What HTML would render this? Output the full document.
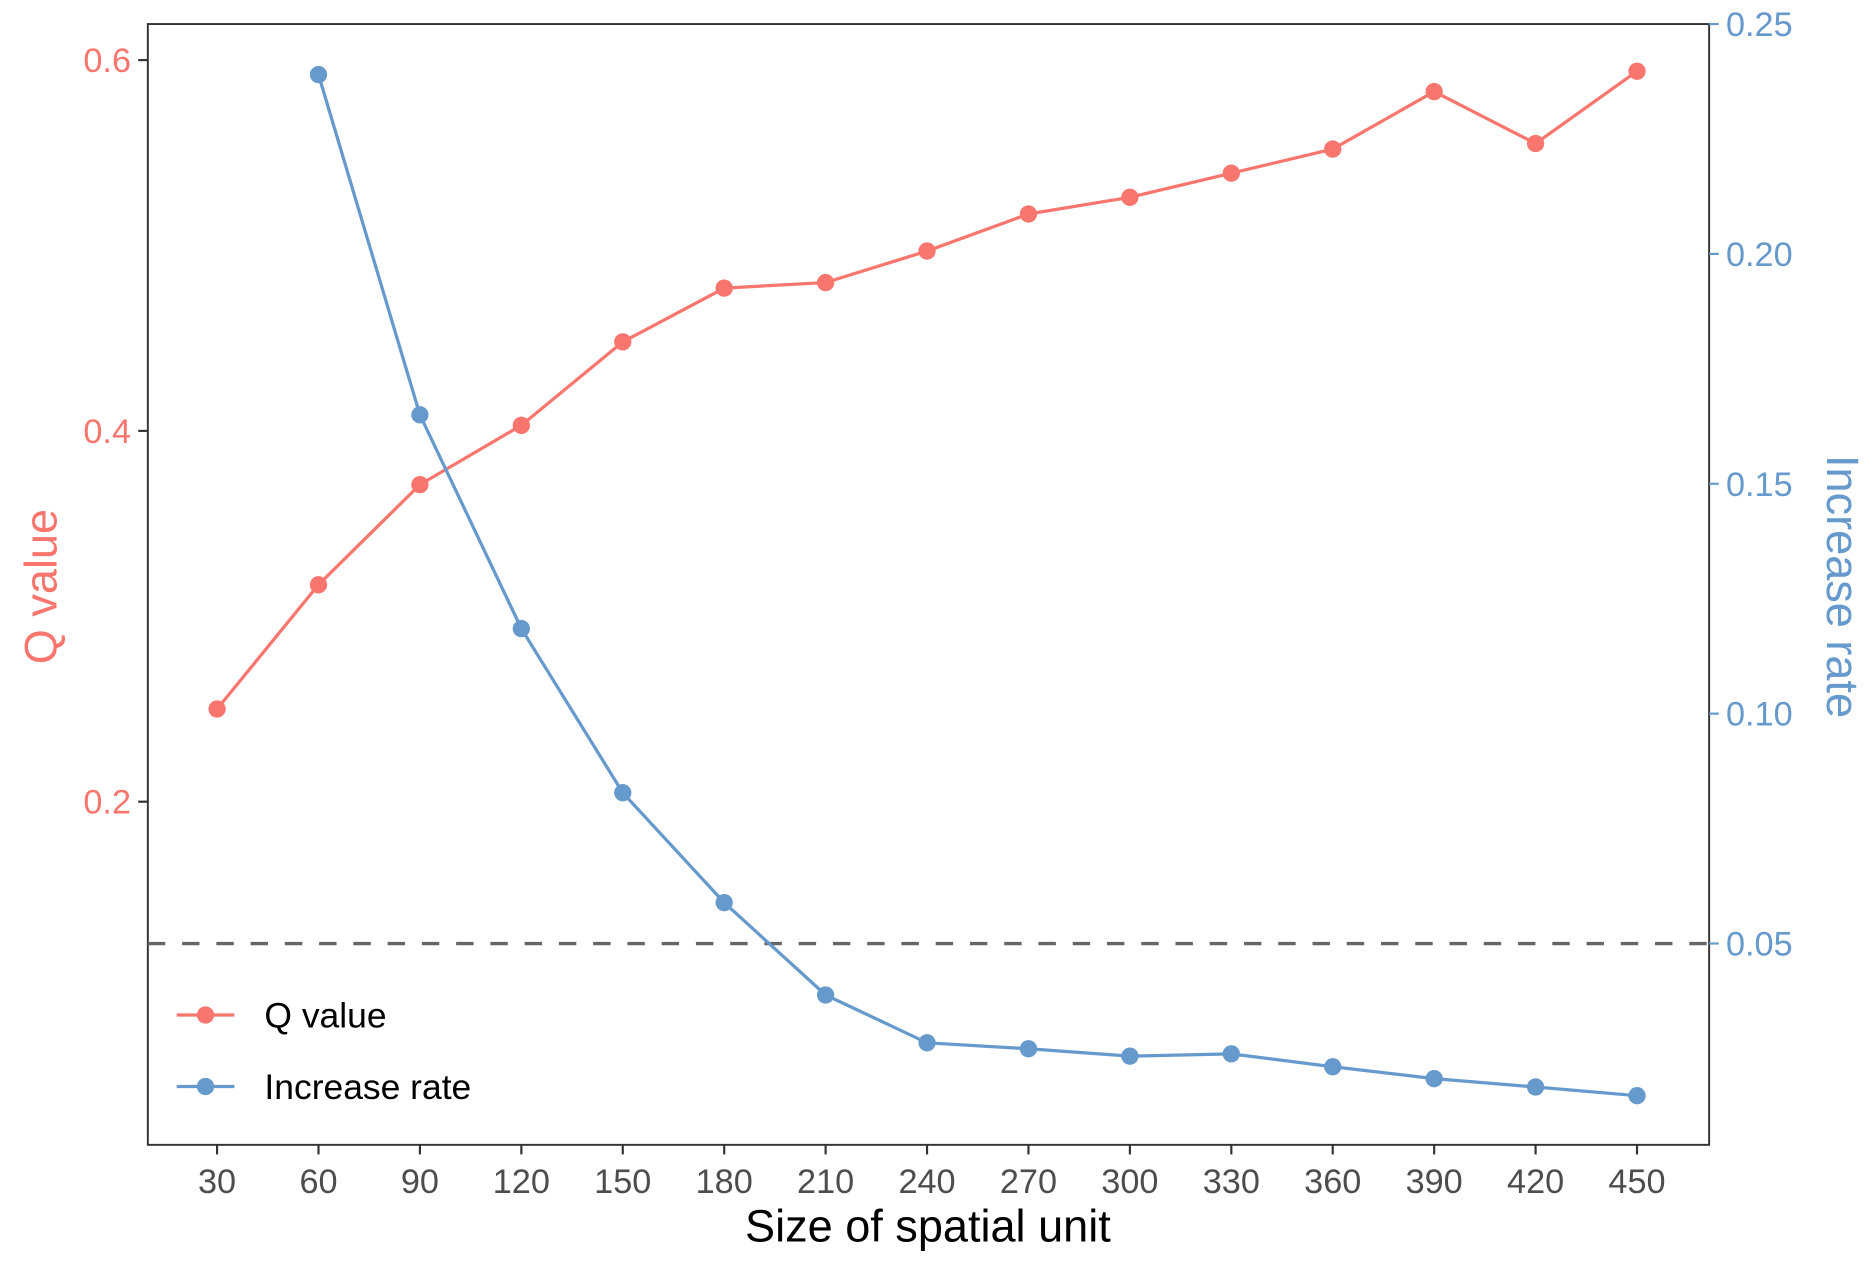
<!DOCTYPE html>
<html><head><meta charset="utf-8"><style>
html,body{margin:0;padding:0;background:#fff;}
svg{display:block;font-family:"Liberation Sans",Arial,sans-serif;}
</style></head><body>
<svg id="chart" width="1875" height="1275" viewBox="0 0 1560 1060.8" xmlns="http://www.w3.org/2000/svg">
<rect x="0" y="0" width="1560" height="1061" fill="#fff"/>
<g id="plot"></g>
</svg>
<script>
const categories=[30,60,90,120,150,180,210,240,270,300,330,360,390,420,450];
const qValues=[0.250,0.317,0.371,0.403,0.448,0.477,0.480,0.497,0.517,0.526,0.539,0.552,0.583,0.555,0.594];
const rateCategories=[60,90,120,150,180,210,240,270,300,330,360,390,420,450];
const rateValues=[0.239,0.165,0.1185,0.0828,0.0589,0.0388,0.0284,0.0271,0.0255,0.026,0.0232,0.0206,0.0188,0.0169];
const leftTicks=[0.2,0.4,0.6];
const leftTickLabels=["0.2","0.4","0.6"];
const rightTicks=[0.05,0.10,0.15,0.20,0.25];
const rightTickLabels=["0.05","0.10","0.15","0.20","0.25"];
const threshold=0.05;

const P={l:123,r:1422,t:20,b:952.5};
const RED="#F8766D",BLUE="#6699CC";
const xS=v=>180.6+(v-30)*(1362-180.6)/420;
const yL=v=>50+(0.6-v)*1542.5;
const yR=v=>20+(0.25-v)*3825;
const NS="http://www.w3.org/2000/svg";
const g=document.getElementById('plot');
function mk(tag,attrs,parent){const e=document.createElementNS(NS,tag);for(const k in attrs)e.setAttribute(k,attrs[k]);(parent||g).appendChild(e);return e;}

let e=mk('rect',{x:P.l,y:P.t,width:P.r-P.l,height:P.b-P.t,fill:'none',stroke:'#333',"stroke-width":1.6});



categories.forEach(c=>{
  const x=xS(c);
  let t=mk('line',{x1:x,x2:x,y1:P.b,y2:P.b+8,stroke:'#333',"stroke-width":1.8});
  
  
  let l=mk('text',{x:x,y:992.5,"text-anchor":"middle","font-size":28.5,fill:'#4d4d4d'});
  l.textContent=c;
  
  
});
leftTicks.forEach((v,i)=>{
  const y=yL(v);
  let t=mk('line',{x1:P.l-8,x2:P.l,y1:y,y2:y,stroke:'#333',"stroke-width":1.8});
  
  
  let l=mk('text',{x:P.l-14,y:y+10,"text-anchor":"end","font-size":28.5,fill:RED});
  l.textContent=leftTickLabels[i];
  
  
});
rightTicks.forEach((v,i)=>{
  const y=yR(v);
  let t=mk('line',{x1:P.r,x2:P.r+8,y1:y,y2:y,stroke:BLUE,"stroke-width":1.8});
  
  
  let l=mk('text',{x:P.r+14,y:y+10,"text-anchor":"start","font-size":28.5,fill:BLUE});
  l.textContent=rightTickLabels[i];
  
  
});
e=mk('line',{x1:P.l,x2:P.r,y1:yR(threshold),y2:yR(threshold),stroke:'#666',"stroke-width":2.8,"stroke-dasharray":"14.5 14"});



function series(xs,ys,yf,color,name){
  let p=mk('polyline',{points:xs.map((c,i)=>xS(c)+','+yf(ys[i])).join(' '),fill:'none',stroke:color,"stroke-width":2.7});
  
  
  xs.forEach((c,i)=>{
    let d=mk('circle',{cx:xS(c),cy:yf(ys[i]),r:7.2,fill:color});
    
    
  });
}
series(categories,qValues,yL,RED,'q-value');
series(rateCategories,rateValues,yR,BLUE,'increase-rate');

[[844.5,RED,'Q value','legend-q-value'],[904,BLUE,'Increase rate','legend-increase-rate']].forEach(([y,c,txt,nm])=>{
  let grp=mk('g',{});
  
  
  mk('line',{x1:147,x2:195,y1:y,y2:y,stroke:c,"stroke-width":2.7},grp);
  mk('circle',{cx:171,cy:y,r:7.2,fill:c},grp);
  let t=mk('text',{x:220,y:y+10.5,"font-size":29.5,fill:'#000'},grp);
  t.textContent=txt;
});

e=mk('text',{x:772,y:1033,"text-anchor":"middle","font-size":37.5,fill:'#000'});
e.textContent='Size of spatial unit';


e=mk('text',{x:0,y:0,"text-anchor":"middle","font-size":37.5,fill:RED,transform:'translate(47,488) rotate(-90)'});
e.textContent='Q value';


e=mk('text',{x:0,y:0,"text-anchor":"middle","font-size":37.5,fill:BLUE,transform:'translate(1520,488) rotate(90)'});
e.textContent='Increase rate';


</script>
</body></html>
